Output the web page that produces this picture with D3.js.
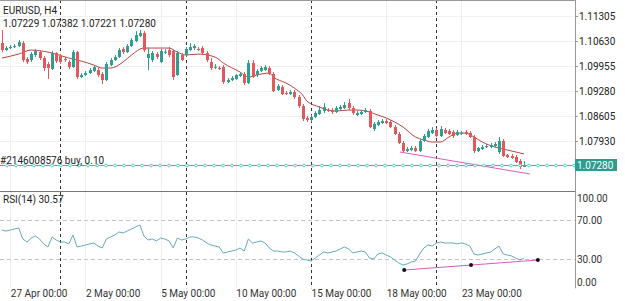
<!DOCTYPE html>
<html>
<head>
  <script src="https://d3js.org/d3.v7.min.js"></script>
  <style>
    body { margin: 0; background: #fff; }
    svg text { font-family: Roboto, "Noto Sans", sans-serif; fill: #222; }
  </style>
</head>
<body>
<div id="svgcontainer"></div>
<script>
  /* chart data */
  var symbolTitle = "EURUSD, H4";
  var rsiTitle = "RSI(14) 30.57";
  var orderText = "#2146008576 buy, 0.10";
  var orderPrice = 1.07280;

  // H4 candles [open, high, low, close], 26 Apr 16:00 .. 25 May 12:00
  var candles = [
    [1.10574,1.10925,1.10331,1.10385],[1.10385,1.10493,1.10358,1.10439],[1.10439,1.10520,1.10412,1.10466],
    [1.10466,1.10547,1.10439,1.10493],[1.10493,1.10655,1.10466,1.10601],[1.10574,1.10628,1.10061,1.10115],
    [1.10142,1.10196,1.10007,1.10061],[1.10115,1.10331,1.10061,1.10277],[1.10250,1.10412,1.10196,1.10358],
    [1.10331,1.10385,1.10115,1.10169],[1.10169,1.10223,1.09818,1.09899],[1.10007,1.10061,1.09602,1.09899],
    [1.09872,1.10358,1.09845,1.10304],[1.10304,1.10331,1.10034,1.10088],[1.10223,1.10277,1.10007,1.10061],
    [1.10142,1.10196,1.10061,1.10115],[1.10061,1.10115,1.09872,1.09926],[1.09926,1.10385,1.09899,1.10331],
    [1.10331,1.10358,1.09602,1.09656],[1.09656,1.09764,1.09629,1.09710],[1.09710,1.09818,1.09683,1.09764],
    [1.09764,1.09899,1.09737,1.09845],[1.09818,1.09980,1.09791,1.09926],[1.09845,1.09899,1.09656,1.09710],
    [1.09737,1.09791,1.09467,1.09575],[1.09575,1.10061,1.09548,1.10007],[1.09980,1.10169,1.09953,1.10115],
    [1.10115,1.10250,1.10088,1.10196],[1.10196,1.10439,1.10169,1.10385],[1.10412,1.10466,1.10277,1.10331],
    [1.10331,1.10547,1.10304,1.10493],[1.10493,1.10709,1.10466,1.10655],[1.10628,1.10898,1.10601,1.10790],
    [1.10763,1.10925,1.10736,1.10844],[1.10844,1.10898,1.10331,1.10385],[1.10169,1.10439,1.09845,1.10277],
    [1.10115,1.10358,1.10061,1.10304],[1.10277,1.10331,1.10142,1.10196],[1.10061,1.10412,1.10034,1.10358],
    [1.10331,1.10412,1.10277,1.10340],[1.10385,1.10466,1.10196,1.10250],[1.10358,1.10385,1.09575,1.09656],
    [1.09710,1.10358,1.09683,1.10304],[1.10250,1.10304,1.10088,1.10115],[1.10250,1.10466,1.10196,1.10412],
    [1.10385,1.10574,1.10358,1.10466],[1.10439,1.10547,1.10385,1.10493],[1.10412,1.10466,1.10358,1.10385],
    [1.10439,1.10493,1.10250,1.10304],[1.10304,1.10358,1.10061,1.10115],[1.10061,1.10169,1.09845,1.09899],
    [1.09926,1.10007,1.09872,1.09935],[1.09899,1.09953,1.09845,1.09890],[1.09926,1.09980,1.09467,1.09521],
    [1.09521,1.09629,1.09494,1.09575],[1.09575,1.09683,1.09548,1.09629],[1.09602,1.09737,1.09575,1.09710],
    [1.09683,1.09791,1.09656,1.09737],[1.09737,1.09791,1.09440,1.09494],[1.09494,1.10115,1.09467,1.10034],
    [1.10034,1.10115,1.09629,1.09656],[1.09710,1.09872,1.09656,1.09818],[1.09818,1.09953,1.09791,1.09899],
    [1.09845,1.09980,1.09818,1.09926],[1.09899,1.09953,1.09710,1.09737],[1.09737,1.09791,1.09251,1.09278],
    [1.09305,1.09467,1.09278,1.09413],[1.09386,1.09440,1.09170,1.09197],[1.09224,1.09278,1.09170,1.09215],
    [1.09197,1.09305,1.09170,1.09251],[1.09251,1.09305,1.09062,1.09116],[1.09116,1.09170,1.08819,1.08873],
    [1.08873,1.08927,1.08468,1.08522],[1.08549,1.08603,1.08441,1.08495],[1.08495,1.08630,1.08441,1.08576],
    [1.08576,1.08738,1.08549,1.08684],[1.08657,1.08873,1.08630,1.08765],[1.08738,1.08954,1.08684,1.08846],
    [1.08765,1.08819,1.08711,1.08760],[1.08765,1.08819,1.08657,1.08711],[1.08711,1.08873,1.08684,1.08819],
    [1.08792,1.08900,1.08765,1.08846],[1.08819,1.08981,1.08792,1.08900],[1.08954,1.09062,1.08765,1.08819],
    [1.08819,1.08873,1.08630,1.08684],[1.08630,1.08738,1.08603,1.08684],[1.08657,1.08765,1.08630,1.08711],
    [1.08711,1.08819,1.08684,1.08765],[1.08738,1.08792,1.08279,1.08306],[1.08252,1.08441,1.08198,1.08387],
    [1.08360,1.08495,1.08333,1.08441],[1.08414,1.08522,1.08387,1.08468],[1.08468,1.08522,1.08387,1.08414],
    [1.08441,1.08495,1.08279,1.08306],[1.08306,1.08360,1.08090,1.08117],[1.08117,1.08171,1.07847,1.07874],
    [1.07874,1.07928,1.07604,1.07658],[1.07658,1.07766,1.07631,1.07712],[1.07685,1.07793,1.07658,1.07739],
    [1.07739,1.07793,1.07631,1.07658],[1.07658,1.07982,1.07631,1.07928],[1.07928,1.08117,1.07901,1.08063],
    [1.08036,1.08252,1.08009,1.08198],[1.08144,1.08306,1.08117,1.08225],[1.08225,1.08279,1.08036,1.08063],
    [1.08063,1.08333,1.08036,1.08252],[1.08225,1.08279,1.08117,1.08144],[1.08198,1.08252,1.08090,1.08117],
    [1.08171,1.08225,1.08009,1.08063],[1.08090,1.08225,1.08063,1.08171],[1.08144,1.08198,1.08090,1.08150],
    [1.08171,1.08225,1.08090,1.08117],[1.08144,1.08198,1.08009,1.08036],[1.08036,1.08090,1.07604,1.07658],
    [1.07658,1.07766,1.07631,1.07739],[1.07712,1.07820,1.07685,1.07766],[1.07766,1.07847,1.07739,1.07793],
    [1.07766,1.07874,1.07739,1.07820],[1.07793,1.07901,1.07766,1.07847],[1.07631,1.08036,1.07577,1.07928],
    [1.07928,1.07982,1.07496,1.07523],[1.07550,1.07577,1.07469,1.07496],[1.07523,1.07577,1.07442,1.07469],
    [1.07496,1.07550,1.07334,1.07361],[1.07388,1.07442,1.07172,1.07226],[1.07229,1.07382,1.07221,1.07280]
  ];

  // moving average line, [bar index, price]
  var maPoints = [
    [0,1.10169],[4,1.10277],[7,1.10385],[12,1.10304],[16,1.10169],[19,1.10088],[22,1.09980],[24,1.09899],
    [26,1.09899],[29,1.10061],[31,1.10250],[34,1.10439],[36,1.10439],[40,1.10439],[42,1.10331],[44,1.10250],
    [47,1.10277],[51,1.10196],[53,1.10034],[57,1.09791],[59,1.09656],[61,1.09710],[64,1.09764],[65,1.09656],
    [68,1.09494],[70,1.09359],[72,1.09170],[73,1.09008],[76,1.08846],[78,1.08765],[80,1.08738],[83,1.08765],
    [85,1.08765],[88,1.08711],[90,1.08630],[92,1.08549],[96,1.08306],[99,1.08036],[101,1.07955],[103,1.07901],
    [105,1.07901],[107,1.08036],[109,1.08144],[111,1.08144],[113,1.08036],[115,1.07901],[118,1.07766],
    [121,1.07685],[125,1.07577]
  ];

  // RSI(14), one value per bar
  var rsiValues = [
    59.7,58.7,59.7,60.8,61.8,50.5,47.4,51.5,53.6,50.5,45.4,42.3,52.6,49.5,47.4,47.4,45.4,54.6,42.3,43.3,
    44.4,45.4,46.4,43.3,41.3,50.5,52.6,54.6,57.7,56.7,58.7,60.8,62.8,64.9,53.6,49.5,50.5,48.5,51.5,50.5,
    48.5,41.3,51.5,49.5,50.5,52.6,52.6,51.5,49.5,46.4,44.4,43.3,42.3,36.2,37.2,38.2,39.2,41.3,38.2,50.5,
    46.4,47.4,48.5,46.4,41.3,38.2,38.2,37.2,37.2,38.2,36.2,33.1,30.0,29.0,27.9,31.0,34.1,37.2,36.2,37.2,
    38.2,40.3,42.3,40.3,36.2,37.2,38.2,37.2,31.0,30.0,35.1,36.2,34.1,32.1,29.0,25.9,23.8,24.9,26.9,27.9,
    35.1,41.3,44.4,43.3,46.4,47.4,46.4,46.4,46.4,45.4,46.4,45.4,43.3,35.1,34.1,35.1,36.2,37.2,40.3,43.3,
    35.1,34.1,33.1,31.0,29.0,30.57
  ];

  var priceTicks = [1.11305, 1.10630, 1.09955, 1.09280, 1.08605, 1.07930];
  var rsiTicks = [100, 70, 30, 0];
  var rsiLevels = [70, 30];
  var dateLabels = [
    { bar: 2, text: "27 Apr 00:00" }, { bar: 20, text: "2 May 00:00" }, { bar: 38, text: "5 May 00:00" },
    { bar: 56, text: "10 May 00:00" }, { bar: 74, text: "15 May 00:00" }, { bar: 92, text: "18 May 00:00" },
    { bar: 110, text: "23 May 00:00" }
  ];
  var weekSeparators = [14, 44, 74, 104];   // Monday 00:00 bars
  var priceTrend = [[95.3, 1.07631], [126.4, 1.07037]];
  var rsiTrend = [[96.3, 18.7], [112.3, 23.8], [128.3, 28.9]];

  /* svg set up */
  var width = 625, height = 301;
  var plotRight = 575;
  var mainTop = 0, mainBottom = 191, rsiTop = 191, rsiBottom = 288.25;

  var svg = d3.select("#svgcontainer").append("svg")
    .attr("width", width).attr("height", height);

  var x = d3.scaleLinear().domain([0, 125]).range([1.95, 524.08]);
  var y = d3.scaleLinear().domain([1.07280, 1.11305]).range([165, 16]);
  var ry = d3.scaleLinear().domain([0, 100]).range([rsiBottom, 190.75]);

  var bull = "#2f9e8f", bear = "#e4575a";

  // faint grid
  svg.selectAll(".hgrid").data(priceTicks).enter().append("line")
    .attr("x1", 0).attr("x2", plotRight)
    .attr("y1", d => Math.round(y(d)) + 0.5).attr("y2", d => Math.round(y(d)) + 0.5)
    .attr("stroke", "#f0f0f0");
  svg.selectAll(".vgrid").data(dateLabels).enter().append("line")
    .attr("x1", d => Math.round(x(d.bar)) + 0.5).attr("x2", d => Math.round(x(d.bar)) + 0.5)
    .attr("y1", 0).attr("y2", rsiBottom)
    .attr("stroke", "#f0f0f0");

  // rsi level lines
  svg.selectAll(".lvl").data(rsiLevels).enter().append("line")
    .attr("x1", 0).attr("x2", plotRight)
    .attr("y1", d => Math.round(ry(d)) + 0.5).attr("y2", d => Math.round(ry(d)) + 0.5)
    .attr("stroke", "#c4c4c4").attr("stroke-dasharray", "4,3");

  // week separators
  svg.selectAll(".sep").data(weekSeparators).enter().append("line")
    .attr("x1", d => Math.round(x(d)) + 0.5).attr("x2", d => Math.round(x(d)) + 0.5)
    .attr("y1", 0).attr("y2", rsiBottom)
    .attr("stroke", "#333").attr("stroke-dasharray", "3,3");

  // frame
  svg.append("line").attr("x1", 0).attr("x2", plotRight).attr("y1", 0.5).attr("y2", 0.5).attr("stroke", "#999");
  svg.append("line").attr("x1", 0).attr("x2", plotRight).attr("y1", rsiTop + 0.5).attr("y2", rsiTop + 0.5).attr("stroke", "#777");
  svg.append("line").attr("x1", plotRight + 0.5).attr("x2", plotRight + 0.5).attr("y1", 0).attr("y2", rsiBottom).attr("stroke", "#999");

  // moving average
  svg.append("path").datum(maPoints)
    .attr("d", d3.line().x(d => x(d[0])).y(d => y(d[1])).curve(d3.curveMonotoneX))
    .attr("fill", "none").attr("stroke", "#b84440").attr("stroke-width", 1);

  // candles
  var cg = svg.append("g");
  candles.forEach(function (c, i) {
    var cx = Math.round(x(i));
    var col = c[3] >= c[0] ? bull : bear;
    cg.append("line")
      .attr("x1", cx + 0.5).attr("x2", cx + 0.5)
      .attr("y1", y(c[1])).attr("y2", y(c[2]))
      .attr("stroke", col);
    var top = y(Math.max(c[0], c[3])), bot = y(Math.min(c[0], c[3]));
    cg.append("rect")
      .attr("x", cx - 1).attr("width", 3)
      .attr("y", top).attr("height", Math.max(1, bot - top))
      .attr("fill", col);
  });

  // price trend line
  svg.append("line")
    .attr("x1", x(priceTrend[0][0])).attr("y1", y(priceTrend[0][1]))
    .attr("x2", x(priceTrend[1][0])).attr("y2", y(priceTrend[1][1]))
    .attr("stroke", "#d75bc4").attr("stroke-width", 1);

  // order line
  var oy = Math.round(y(orderPrice)) + 0.5;
  svg.append("line").attr("x1", 0).attr("x2", plotRight).attr("y1", oy).attr("y2", oy)
    .attr("stroke", "#4fb0a8").attr("stroke-dasharray", "5,4");
  svg.selectAll(".odot").data(d3.range(7, plotRight, 9)).enter().append("circle")
    .attr("cx", d => d).attr("cy", oy).attr("r", 1.4)
    .attr("fill", "#fff").attr("stroke", "#4fb0a8").attr("stroke-width", 0.8);
  svg.append("text").attr("x", 0).attr("y", oy - 2).attr("font-size", 10).text(orderText);

  // rsi line
  svg.append("path").datum(rsiValues)
    .attr("d", d3.line().x((d, i) => x(i)).y(d => ry(d)))
    .attr("fill", "none").attr("stroke", "#64aabd").attr("stroke-width", 1);

  // rsi trend line with anchor dots
  svg.append("path").datum(rsiTrend)
    .attr("d", d3.line().x(d => x(d[0])).y(d => ry(d[1])))
    .attr("fill", "none").attr("stroke", "#d75bc4").attr("stroke-width", 1);
  svg.selectAll(".rdot").data(rsiTrend).enter().append("circle")
    .attr("cx", d => x(d[0])).attr("cy", d => ry(d[1])).attr("r", 2)
    .attr("fill", "#111");

  // price axis
  var ax = svg.append("g").attr("transform", "translate(" + plotRight + ",0)")
    .call(d3.axisRight(y).tickValues(priceTicks).tickFormat(d3.format(".5f")).tickSize(3).tickPadding(1));
  ax.select(".domain").remove();
  ax.selectAll("line").attr("stroke", "#999");
  ax.selectAll("text").attr("font-size", 10).attr("font-family", "Roboto").attr("fill", "#333");

  // current price tag
  svg.append("rect").attr("x", plotRight).attr("y", y(orderPrice) - 6).attr("width", 42).attr("height", 12)
    .attr("fill", "#2a9d8f");
  svg.append("text").attr("x", plotRight + 2).attr("y", y(orderPrice)).attr("dy", "0.35em")
    .attr("font-size", 10).style("fill", "#fff").text(d3.format(".5f")(orderPrice));

  // rsi axis labels
  svg.selectAll(".rlab").data(rsiTicks).enter().append("text")
    .attr("x", plotRight + 2)
    .attr("y", d => Math.min(282, Math.max(198, ry(d))))
    .attr("dy", "0.35em").attr("font-size", 10).style("fill", "#333")
    .text(d => d3.format(".2f")(d));

  // date labels
  svg.selectAll(".dlab").data(dateLabels).enter().append("text")
    .attr("x", d => x(d.bar) + 0.5).attr("y", 297)
    .attr("font-size", 10).style("fill", "#333")
    .text(d => d.text);

  // titles
  var last = candles[candles.length - 1];
  svg.append("text").attr("x", 3).attr("y", 14).attr("font-size", 10).text(symbolTitle);
  svg.append("text").attr("x", 3).attr("y", 27).attr("font-size", 10)
    .text(last.map(d3.format(".5f")).join(" "));
  svg.append("text").attr("x", 3).attr("y", 203).attr("font-size", 10).text(rsiTitle);
</script>
</body>
</html>
